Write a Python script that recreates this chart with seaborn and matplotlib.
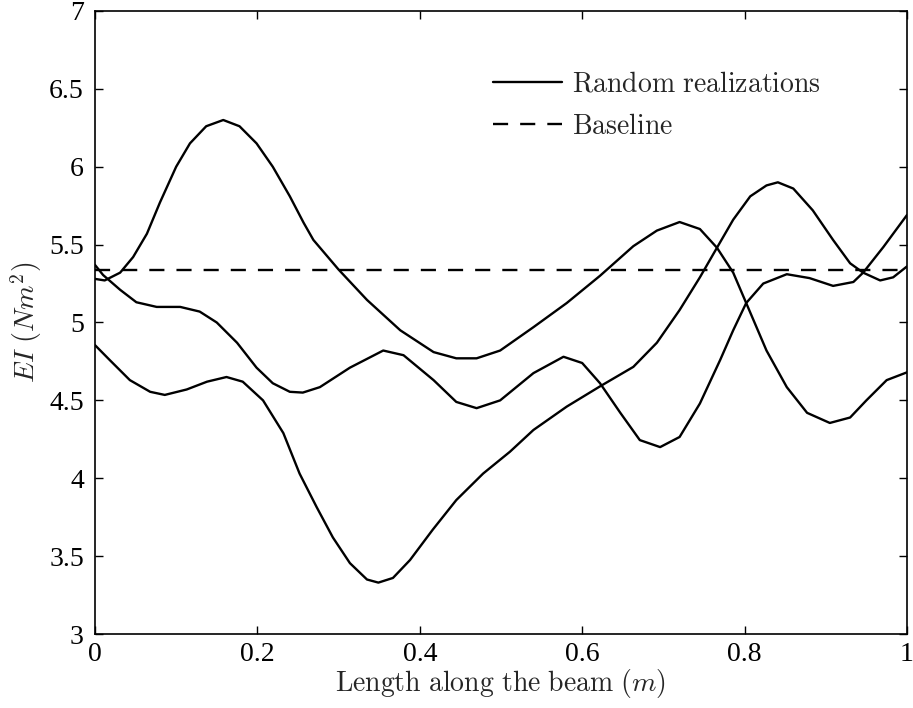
import numpy as np
import pandas as pd
import seaborn as sns
import matplotlib.pyplot as plt

# points, one list pair per realization
x_a = [0.0, 0.012, 0.031, 0.047, 0.064, 0.080, 0.100, 0.117, 0.137, 0.158, 0.178, 0.199,
       0.219, 0.240, 0.257, 0.269, 0.300, 0.335, 0.376, 0.417, 0.445, 0.470, 0.499,
       0.540, 0.581, 0.622, 0.663, 0.692, 0.720, 0.745, 0.766, 0.786, 0.802, 0.827,
       0.852, 0.877, 0.905, 0.930, 0.950, 0.975, 1.0]
y_a = [5.28, 5.27, 5.32, 5.42, 5.57, 5.77, 6.00, 6.15, 6.26, 6.30, 6.26, 6.15,
       6.00, 5.81, 5.64, 5.53, 5.34, 5.145, 4.95, 4.81, 4.77, 4.77, 4.82,
       4.97, 5.125, 5.30, 5.49, 5.59, 5.645, 5.60, 5.48, 5.32, 5.125, 4.82,
       4.585, 4.42, 4.355, 4.39, 4.50, 4.63, 4.68]

x_b = [0.0, 0.010, 0.031, 0.051, 0.076, 0.105, 0.129, 0.150, 0.175, 0.199, 0.219, 0.240,
       0.256, 0.277, 0.314, 0.355, 0.380, 0.417, 0.445, 0.470, 0.499, 0.540, 0.577,
       0.600, 0.622, 0.647, 0.671, 0.696, 0.720, 0.745, 0.770, 0.786, 0.802, 0.823,
       0.852, 0.880, 0.909, 0.934, 0.946, 0.971, 1.0]
y_b = [5.37, 5.305, 5.21, 5.13, 5.10, 5.10, 5.07, 5.00, 4.87, 4.71, 4.61, 4.555,
       4.55, 4.585, 4.71, 4.82, 4.79, 4.63, 4.49, 4.45, 4.50, 4.675, 4.78,
       4.74, 4.61, 4.42, 4.245, 4.20, 4.265, 4.48, 4.76, 4.95, 5.125, 5.25,
       5.31, 5.285, 5.235, 5.26, 5.32, 5.485, 5.69]

x_c = [0.0, 0.018, 0.043, 0.068, 0.086, 0.113, 0.138, 0.162, 0.182, 0.207, 0.232, 0.252,
       0.273, 0.293, 0.314, 0.335, 0.349, 0.367, 0.388, 0.416, 0.445, 0.478, 0.511,
       0.540, 0.581, 0.622, 0.663, 0.692, 0.720, 0.745, 0.766, 0.786, 0.807, 0.827,
       0.841, 0.860, 0.884, 0.909, 0.930, 0.946, 0.967, 0.983, 1.0]
y_c = [4.855, 4.76, 4.63, 4.555, 4.535, 4.57, 4.62, 4.65, 4.62, 4.50, 4.29, 4.03,
       3.815, 3.62, 3.455, 3.35, 3.33, 3.36, 3.475, 3.67, 3.86, 4.03, 4.17,
       4.31, 4.46, 4.59, 4.715, 4.87, 5.08, 5.29, 5.48, 5.66, 5.81, 5.88,
       5.90, 5.86, 5.72, 5.53, 5.38, 5.32, 5.27, 5.29, 5.36]

baseline = 5.337

realizations = [(x_a, y_a), (x_b, y_b), (x_c, y_c)]

sns.set_style('ticks')
plt.rcParams['font.family'] = ['Liberation Serif', 'DejaVu Serif']
plt.rcParams['mathtext.fontset'] = 'cm'

fig = plt.figure(figsize=(9.13, 7.08), dpi=100)
ax = fig.add_axes([0.104, 0.1045, 0.8894, 0.88])

for i, (xs, ys) in enumerate(realizations):
    df = pd.DataFrame({'x': xs, 'y': ys})
    sns.lineplot(data=df, x='x', y='y', ax=ax, color='black', linewidth=1.7,
                 label=r'$\mathrm{Random\ realizations}$' if i == 0 else None)

ax.axhline(baseline, color='black', linewidth=1.7, dashes=(6.4, 5.1),
           label=r'$\mathrm{Baseline}$')

ax.set_xlim(0, 1)
ax.set_ylim(3, 7)
ax.set_xticks([0, 0.2, 0.4, 0.6, 0.8, 1])
ax.set_xticklabels(['0', '0.2', '0.4', '0.6', '0.8', '1'])
ax.set_yticks([3, 3.5, 4, 4.5, 5, 5.5, 6, 6.5, 7])
ax.set_yticklabels(['3', '3.5', '4', '4.5', '5', '5.5', '6', '6.5', '7'])
ax.tick_params(direction='in', length=6, width=1, labelsize=20, top=True, right=True,
               colors='black')
ax.tick_params(axis='y', pad=8)
ax.tick_params(axis='x', pad=6)
for s in ax.spines.values():
    s.set_visible(True)
    s.set_color('black')
    s.set_linewidth(1.2)

ax.set_xlabel(r'$\mathrm{Length\ along\ the\ beam}\ (m)$', fontsize=20, labelpad=0)
ax.set_ylabel(r'$EI\ (Nm^2)$', fontsize=20, labelpad=4)

ax.legend(loc='upper left', bbox_to_anchor=(0.49, 0.902), frameon=False, fontsize=20,
          handlelength=2.5, handletextpad=0.36, labelspacing=0.6, borderpad=0,
          borderaxespad=0)

fig.savefig('out.png', dpi=100)
